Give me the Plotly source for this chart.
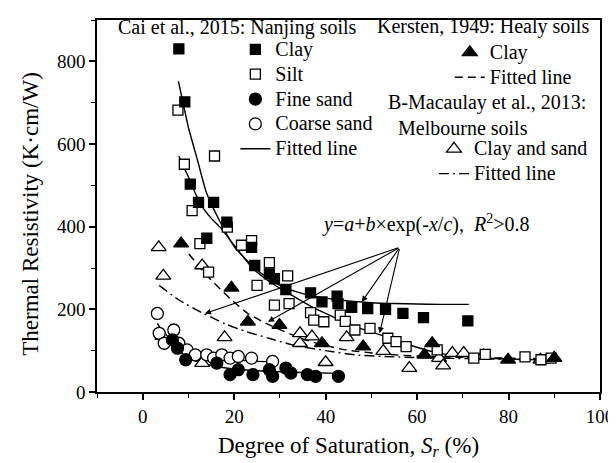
import plotly.graph_objects as go

# ---------------- data ----------------
cai_clay_x = [7.9, 9.2, 10.4, 12.2, 14.0, 15.5, 18.4, 23.8, 24.5, 27.7, 28.8, 31.3, 36.7, 39.2, 42.5, 42.7, 45.7, 49.2, 53.1, 56.9, 61.4, 71.1]
cai_clay_y = [830, 702, 503, 459, 372, 459, 411, 350, 306, 286, 274, 248, 240, 218, 232, 214, 205, 202, 200, 190, 180, 172]

cai_silt_x = [7.7, 9.1, 10.8, 12.5, 14.4, 15.7, 18.5, 21.6, 23.8, 25.0, 27.7, 28.8, 31.7, 32.0, 36.7, 37.4, 39.6, 43.2, 44.3, 46.4, 49.7, 53.6, 55.4, 57.6, 64.4, 72.4, 74.9, 83.6, 87.1, 89.3]
cai_silt_y = [682, 551, 439, 359, 290, 571, 399, 355, 366, 258, 313, 210, 281, 214, 192, 174, 170, 186, 171, 150, 154, 130, 122, 110, 102, 82, 91, 85, 78, 82]

cai_fine_x = [6.5, 7.6, 9.4, 16.2, 19.1, 20.9, 24.1, 27.7, 28.4, 31.3, 32.4, 36.0, 37.8, 42.8]
cai_fine_y = [126, 106, 78, 70, 42, 54, 42, 54, 38, 58, 46, 42, 38, 38]

cai_coarse_x = [3.2, 3.6, 4.7, 6.8, 7.9, 9.7, 11.5, 14.0, 15.5, 17.3, 19.1, 20.9, 23.8, 28.4]
cai_coarse_y = [190, 142, 118, 150, 118, 102, 90, 90, 82, 90, 82, 86, 82, 74]

kersten_x = [8.4, 19.4, 23.0, 29.9, 39.2, 48.2, 61.6, 63.3, 79.9, 90.0]
kersten_y = [359, 252, 170, 162, 118, 110, 90, 118, 78, 82]

mac_x = [3.5, 4.5, 4.3, 13.0, 13.0, 17.9, 34.4, 34.4, 37.0, 40.0, 44.6, 52.6, 58.3, 64.8, 65.7, 67.7, 70.2, 74.5, 87.0, 90.0]
mac_y = [350, 281, 135, 306, 70, 132, 142, 118, 134, 72, 132, 99, 58, 82, 64, 94, 94, 88, 78, 82]

# fitted lines
fit_clay_x = [7.8, 9, 10, 12, 14, 17, 20, 25, 30, 35, 40, 45, 50, 55, 60, 65, 71.3]
fit_clay_y = [752, 690, 640, 560, 480, 410, 352, 295, 258, 238, 227, 220, 216, 214, 213, 212, 212]
fit_silt_x = [7.9, 10, 12.6, 15, 17, 20, 24, 28, 32, 37, 42, 46, 52, 58, 64, 70, 77, 84, 90.3]
fit_silt_y = [571, 520, 455, 420, 398, 355, 300, 265, 238, 206, 180, 160, 138, 115, 96, 86, 81, 79, 78]
fit_fine_x = [6, 8, 10, 13, 17, 22, 28, 35, 43]
fit_fine_y = [128, 100, 82, 70, 60, 54, 50, 47, 45]
fit_coarse_x = [3.2, 5, 7, 9, 12, 16, 20, 24, 28.5]
fit_coarse_y = [166, 135, 112, 100, 90, 82, 78, 75, 73]
fit_kersten_x = [10.1, 14, 19.1, 23, 27, 35.6, 44.3, 55, 65, 80, 90.3]
fit_kersten_y = [334, 282, 226, 190, 166, 126, 102, 90, 85, 82, 80]
fit_mac_x = [3.6, 8, 13.3, 18, 22.7, 27.6, 32.8, 40, 46.4, 55, 65, 80, 90]
fit_mac_y = [258, 222, 190, 165, 146, 130, 114, 100, 90, 85, 82, 79, 78]

FONT = "Liberation Serif"
BLK = "black"
TXT = 20          # visible size of legend / note text
ROWSIZE = 16.8    # legend font size that sets the row pitch


def lab(s):
    return '<span style="font-size:%dpx">%s</span>' % (TXT, s)


fig = go.Figure()


def line(x, y, dash, name, legend, show, rank):
    fig.add_trace(go.Scatter(x=x, y=y, mode="lines", name=lab(name), legend=legend,
                             showlegend=show, legendrank=rank,
                             line=dict(color=BLK, width=1.4, dash=dash, shape="spline", smoothing=0.6)))


line(fit_clay_x, fit_clay_y, "solid", "Fitted line", "legend", True, 5)
line(fit_silt_x, fit_silt_y, "solid", "Fitted line", "legend", False, 5)
line(fit_fine_x, fit_fine_y, "solid", "Fitted line", "legend", False, 5)
line(fit_coarse_x, fit_coarse_y, "solid", "Fitted line", "legend", False, 5)
line(fit_kersten_x, fit_kersten_y, "8px,5px", "Fitted line", "legend2", True, 2)
line(fit_mac_x, fit_mac_y, "10px,4px,2px,4px", "Fitted line", "legend3", True, 2)


def pts(x, y, sym, size, fill, name, legend, rank):
    fig.add_trace(go.Scatter(x=x, y=y, mode="markers", name=lab(name), legend=legend, legendrank=rank,
                             marker=dict(symbol=sym, size=size, color=fill,
                                         line=dict(color=BLK, width=1.3))))


pts(mac_x, mac_y, "triangle-up", 13, "white", "Clay and sand", "legend3", 1)
pts(cai_coarse_x, cai_coarse_y, "circle", 12, "white", "Coarse sand", "legend", 4)
pts(cai_silt_x, cai_silt_y, "square", 10, "white", "Silt", "legend", 2)
pts(cai_clay_x, cai_clay_y, "square", 10, BLK, "Clay", "legend", 1)
pts(cai_fine_x, cai_fine_y, "circle", 12, BLK, "Fine sand", "legend", 3)
pts(kersten_x, kersten_y, "triangle-up", 13, BLK, "Clay", "legend2", 1)

# arrows from the formula label to the fitted lines
tail = (56.2, 350)
targets = [(13.6, 190), (27.4, 170), (47.9, 218), (51.8, 142)]
annotations = []
for tx, ty in targets:
    annotations.append(dict(x=tx, y=ty, ax=tail[0], ay=tail[1], xref="x", yref="y",
                            axref="x", ayref="y", text="", showarrow=True,
                            arrowhead=2, arrowsize=1.1, arrowwidth=1.1, arrowcolor=BLK))


def ptxt(text, px, py, size=TXT, angle=0, xanchor="left"):
    annotations.append(dict(x=(px - 89) / 509, y=(384 - py) / 374, xref="paper", yref="paper",
                            xanchor=xanchor, yanchor="middle", showarrow=False, text=text,
                            textangle=angle, font=dict(family=FONT, size=size, color=BLK)))


ptxt("<i>y</i>=<i>a</i>+<i>b</i>×exp(-<i>x</i>/<i>c</i>),&nbsp; <i>R</i><sup>2</sup>>0.8", 315, 215)
ptxt("Cai et al., 2015: Nanjing soils", 108, 18)
ptxt("Kersten, 1949: Healy soils", 370, 17)
ptxt("B-Macaulay et al., 2013:", 381, 93)
ptxt("Melbourne soils", 392, 119)
ptxt("Thermal Resistivity (K·cm/W)", 22, 205, size=23, angle=-90, xanchor="center")

leg = dict(font=dict(family=FONT, size=ROWSIZE, color=BLK), bgcolor="rgba(0,0,0,0)",
           borderwidth=0, tracegroupgap=0, xanchor="left", yanchor="top")

fig.update_layout(
    width=616, height=463,
    margin=dict(l=89, r=18, t=10, b=79),
    paper_bgcolor="white", plot_bgcolor="white",
    font=dict(family=FONT, color=BLK, size=18),
    annotations=annotations,
    legend=dict(**leg, x=(229 - 89) / 509, y=(384 - 22) / 374),
    legend2=dict(**leg, x=(446 - 89) / 509, y=(384 - 25) / 374),
    legend3=dict(**leg, x=(430 - 89) / 509, y=(384 - 122) / 374),
    xaxis=dict(range=[-10, 100], dtick=20, tick0=0, showgrid=False, zeroline=False,
               showline=True, mirror=True, linecolor=BLK, linewidth=1.5,
               ticks="outside", ticklen=6, tickwidth=1.5, tickcolor=BLK,
               minor=dict(dtick=10, ticks="outside", ticklen=4, tickwidth=1.2, tickcolor=BLK),
               tickfont=dict(family=FONT, size=19, color=BLK),
               title=dict(text="Degree of Saturation, <i>S<sub>r</sub></i> (%)",
                          font=dict(family=FONT, size=23, color=BLK), standoff=11)),
    yaxis=dict(range=[0, 900], dtick=200, tick0=0, showgrid=False, zeroline=False,
               showline=True, mirror=True, linecolor=BLK, linewidth=1.5,
               ticks="outside", ticklen=6, tickwidth=1.5, tickcolor=BLK,
               minor=dict(dtick=100, ticks="outside", ticklen=4, tickwidth=1.2, tickcolor=BLK),
               tickfont=dict(family=FONT, size=19, color=BLK)),
)

fig.write_html("out.html")
